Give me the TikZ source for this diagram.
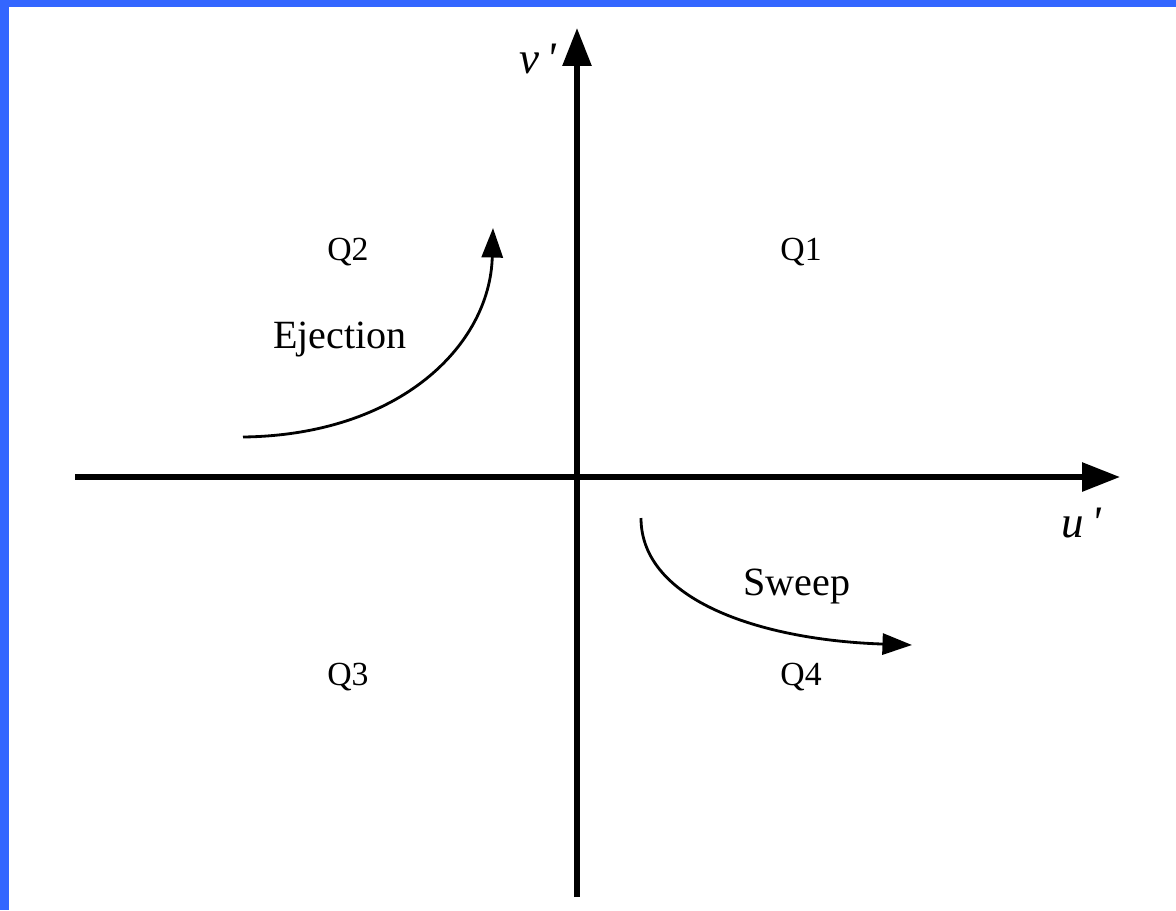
\documentclass[tikz,border=0pt]{standalone}
\usepackage{fontspec}
\setmainfont{Liberation Serif}
\usetikzlibrary{arrows.meta}
\definecolor{bordblue}{RGB}{51,102,255}

\begin{document}
\begin{tikzpicture}[x=0.025cm, y=-0.025cm]
        \tikzstyle{axis}=[line width=3.9pt, -{Triangle[length=27pt, width=20pt]}]
        \tikzstyle{flow}=[line width=2pt, -{Triangle[length=21pt, width=15pt]}]
        \tikzstyle{quad}=[inner sep=0pt, anchor=base, font=\fontsize{24}{28}\selectfont]
        \tikzstyle{word}=[inner sep=0pt, anchor=base, font=\fontsize{28.5}{33}\selectfont]
        \tikzstyle{var}=[inner sep=0pt, anchor=base, font=\fontsize{32}{36}\selectfont\itshape]

            % frame
            \useasboundingbox (0,0) rectangle (1176,910);
            \fill[white] (0,0) rectangle (1176,910);
            \fill[bordblue] (0,0) rectangle (1176,7);
            \fill[bordblue] (0,0) rectangle (9,910);

            \coordinate (l) at (75,477);
            \coordinate (r) at (1120,477);
            \coordinate (b) at (577,897);
            \coordinate (t) at (577,28);

            \draw[axis] (l) -- (r);
            \draw[axis] (b) -- (t);

            \node[var](v) at (538,73){v\,\textquotesingle};
            \node[var](u) at (1081,537){u\,\textquotesingle};

            \foreach \name/\x/\y in {Q1/801/260,Q2/348/260,Q3/348/685,Q4/801/685}
            \node[quad](\name) at (\x,\y){\name};

            \node[word](ej) at (340,348){Ejection};
            \node[word](sw) at (797,595){Sweep};

            \coordinate (e1) at (243,437);
            \coordinate (e2) at (493,228);
            \coordinate (s1) at (641,518);
            \coordinate (s2) at (912,645);

            \draw[flow] (e1) .. controls (400,435) and (490,345) .. (e2);
            \draw[flow] (s1) .. controls (641,600) and (760,640) .. (s2);

        \end{tikzpicture}
\end{document}
